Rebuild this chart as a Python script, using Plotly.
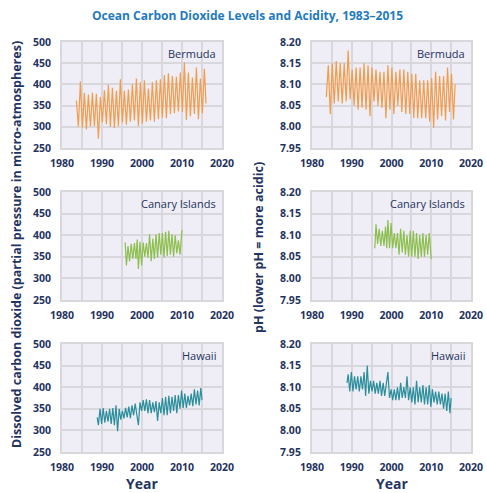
import plotly.graph_objects as go

# Bermuda (1983-2016)
bermuda_year = [1983.6, 1984.1, 1984.6, 1985.1, 1985.6, 1986.1, 1986.6, 1987.1, 1987.6, 1988.1,
                1988.6, 1989.1, 1989.6, 1990.1, 1990.6, 1991.1, 1991.6, 1992.1, 1992.6, 1993.1,
                1993.6, 1994.1, 1994.6, 1995.1, 1995.6, 1996.1, 1996.6, 1997.1, 1997.6, 1998.1,
                1998.6, 1999.1, 1999.6, 2000.1, 2000.6, 2001.1, 2001.6, 2002.1, 2002.6, 2003.1,
                2003.6, 2004.1, 2004.6, 2005.1, 2005.6, 2006.1, 2006.6, 2007.1, 2007.6, 2008.1,
                2008.6, 2009.1, 2009.6, 2010.1, 2010.6, 2011.1, 2011.6, 2012.1, 2012.6, 2013.1,
                2013.6, 2014.1, 2014.6, 2015.1, 2015.6, 2016.0]
bermuda_co2 = [362, 300, 407, 298, 380, 294, 376, 300, 380, 302,
               378, 272, 370, 310, 386, 306, 399, 300, 392, 298,
               385, 302, 412, 310, 385, 305, 388, 312, 400, 315,
               414, 302, 405, 308, 410, 312, 390, 315, 405, 312,
               410, 318, 412, 322, 422, 320, 426, 330, 420, 332,
               418, 336, 428, 335, 452, 316, 428, 325, 416, 330,
               440, 318, 414, 332, 437, 355]
bermuda_ph = [8.070, 8.145, 8.030, 8.150, 8.055, 8.155, 8.060, 8.150, 8.055, 8.150,
              8.060, 8.180, 8.065, 8.135, 8.050, 8.140, 8.040, 8.140, 8.045, 8.150,
              8.040, 8.145, 8.025, 8.140, 8.060, 8.135, 8.050, 8.130, 8.045, 8.130,
              8.020, 8.145, 8.040, 8.140, 8.030, 8.130, 8.050, 8.135, 8.035, 8.135,
              8.030, 8.130, 8.030, 8.125, 8.020, 8.125, 8.020, 8.110, 8.020, 8.110,
              8.020, 8.110, 8.012, 8.115, 7.998, 8.130, 8.017, 8.120, 8.025, 8.120,
              8.015, 8.140, 8.035, 8.125, 8.017, 8.100]

# Canary Islands (1995-2010)
canary_year = [1995.8, 1996.1, 1996.5, 1996.9, 1997.3, 1997.7, 1998.1, 1998.5, 1998.8, 1999.1,
               1999.5, 1999.9, 2000.3, 2000.7, 2001.1, 2001.5, 2001.9, 2002.3, 2002.7, 2003.1,
               2003.5, 2003.9, 2004.3, 2004.7, 2005.1, 2005.5, 2005.9, 2006.3, 2006.7, 2007.1,
               2007.5, 2007.9, 2008.3, 2008.7, 2009.1, 2009.5, 2010.0]
canary_co2 = [383, 330, 375, 340, 380, 345, 382, 345, 390, 322,
              385, 330, 383, 350, 382, 348, 402, 340, 392, 345,
              402, 348, 405, 355, 405, 348, 408, 352, 410, 355,
              402, 350, 400, 358, 388, 355, 412]
canary_ph = [8.070, 8.125, 8.080, 8.115, 8.075, 8.110, 8.075, 8.120, 8.070, 8.135,
             8.070, 8.128, 8.070, 8.105, 8.070, 8.105, 8.055, 8.115, 8.060, 8.110,
             8.055, 8.100, 8.050, 8.110, 8.050, 8.110, 8.050, 8.105, 8.045, 8.100,
             8.050, 8.105, 8.050, 8.100, 8.055, 8.105, 8.045]

# Hawaii (1988-2015)
hawaii_year = [1988.8, 1989.1, 1989.5, 1989.9, 1990.3, 1990.7, 1991.1, 1991.5, 1991.9, 1992.3,
               1992.7, 1993.1, 1993.5, 1993.9, 1994.3, 1994.7, 1995.1, 1995.5, 1995.9, 1996.3,
               1996.7, 1997.1, 1997.5, 1997.9, 1998.3, 1998.7, 1999.1, 1999.5, 1999.9, 2000.3,
               2000.7, 2001.1, 2001.5, 2001.9, 2002.3, 2002.7, 2003.1, 2003.5, 2003.9, 2004.3,
               2004.7, 2005.1, 2005.5, 2005.9, 2006.3, 2006.7, 2007.1, 2007.5, 2007.9, 2008.3,
               2008.7, 2009.1, 2009.5, 2009.9, 2010.3, 2010.7, 2011.1, 2011.5, 2011.9, 2012.3,
               2012.7, 2013.1, 2013.5, 2013.9, 2014.3, 2014.7, 2015.0]
hawaii_co2 = [330, 312, 350, 315, 352, 318, 345, 320, 350, 315,
              352, 312, 358, 298, 350, 325, 345, 328, 352, 330,
              355, 328, 358, 335, 362, 340, 312, 365, 345, 370,
              345, 372, 340, 370, 340, 365, 342, 368, 322, 365,
              340, 375, 335, 378, 335, 380, 340, 378, 345, 382,
              340, 382, 350, 392, 352, 385, 352, 380, 358, 385,
              356, 395, 360, 392, 358, 398, 370]
hawaii_ph = [8.110, 8.130, 8.090, 8.135, 8.090, 8.125, 8.095, 8.125, 8.090, 8.125,
             8.095, 8.135, 8.080, 8.150, 8.085, 8.115, 8.090, 8.115, 8.085, 8.110,
             8.085, 8.115, 8.080, 8.110, 8.080, 8.105, 8.135, 8.075, 8.095, 8.070,
             8.095, 8.070, 8.100, 8.070, 8.110, 8.075, 8.100, 8.075, 8.125, 8.070,
             8.100, 8.065, 8.100, 8.060, 8.115, 8.065, 8.100, 8.065, 8.105, 8.060,
             8.100, 8.060, 8.105, 8.055, 8.095, 8.065, 8.090, 8.060, 8.090, 8.060,
             8.085, 8.050, 8.085, 8.045, 8.090, 8.040, 8.075]

sites = ["Bermuda", "Canary Islands", "Hawaii"]
colors = ["#f39c4c", "#8dbf4e", "#2a8e9c"]
co2_ticks = [250, 300, 350, 400, 450, 500]
ph_ticks = [7.95, 8.00, 8.05, 8.10, 8.15, 8.20]

W, H = 487, 493
NAVY = "#1f3461"
GRID = "#d8d8dc"
FONT = "Open Sans"

fig = go.Figure()

series = [
    (bermuda_year, bermuda_co2, bermuda_ph),
    (canary_year, canary_co2, canary_ph),
    (hawaii_year, hawaii_co2, hawaii_ph),
]

# pixel boxes for panels (top, bottom)
rows = [(42, 148), (192, 300), (344, 452)]
cols = [(62, 222), (312, 471)]

for r, (yrs, co2, ph) in enumerate(series):
    for c, vals in enumerate([co2, ph]):
        n = r * 2 + c + 1
        xa = "x" if n == 1 else f"x{n}"
        ya = "y" if n == 1 else f"y{n}"
        fig.add_trace(go.Scatter(x=yrs, y=vals, mode="lines",
                                 line=dict(color=colors[r], width=1.2),
                                 xaxis=xa, yaxis=ya, showlegend=False,
                                 hoverinfo="skip"))
        top, bot = rows[r]
        left, right = cols[c]
        ticks = co2_ticks if c == 0 else ph_ticks
        fmt = "d" if c == 0 else ".2f"
        fig.layout["xaxis" if n == 1 else f"xaxis{n}"] = dict(
            domain=[left / W, right / W], anchor=ya, range=[1980, 2020],
            tickvals=[1980, 1990, 2000, 2010, 2020], showgrid=True,
            gridcolor=GRID, gridwidth=2, zeroline=False,
            minor=dict(tickvals=[1985, 1995, 2005, 2015], showgrid=True,
                       gridcolor=GRID, gridwidth=2),
            showline=True, linecolor=GRID, linewidth=2, mirror=True,
            ticks="", ticklabelstandoff=4, automargin=False,
            tickfont=dict(family=FONT, size=10.5, color=NAVY, weight="bold"))
        fig.layout["yaxis" if n == 1 else f"yaxis{n}"] = dict(
            domain=[1 - bot / H, 1 - top / H], anchor=xa,
            range=[ticks[0], ticks[-1]], tickvals=ticks, tickformat=fmt,
            showgrid=True, gridcolor=GRID, gridwidth=2, zeroline=False,
            showline=True, linecolor=GRID, linewidth=2, mirror=True,
            ticks="", ticklabelstandoff=7, automargin=False,
            tickfont=dict(family=FONT, size=10.5, color=NAVY, weight="bold"))
        fig.add_annotation(text=sites[r], xref="paper", yref="paper",
                           x=(right - 4) / W, y=1 - (top + 11) / H,
                           xanchor="right", yanchor="middle", showarrow=False,
                           font=dict(family=FONT, size=11, color=NAVY))

fig.add_annotation(text="Ocean Carbon Dioxide Levels and Acidity, 1983\u20132015",
                   xref="paper", yref="paper", x=247 / W, y=1 - 15 / H,
                   xanchor="center", yanchor="middle", showarrow=False,
                   font=dict(family=FONT, size=12, color="#1f7ac0", weight="bold"))
fig.add_annotation(text="Dissolved carbon dioxide (partial pressure in micro-atmospheres)",
                   xref="paper", yref="paper", x=16 / W, y=1 - 245 / H,
                   xanchor="center", yanchor="middle", textangle=-90, showarrow=False,
                   font=dict(family=FONT, size=12.5, color=NAVY, weight="bold"))
fig.add_annotation(text="pH (lower pH = more acidic)",
                   xref="paper", yref="paper", x=258 / W, y=1 - 248 / H,
                   xanchor="center", yanchor="middle", textangle=-90, showarrow=False,
                   font=dict(family=FONT, size=12.5, color=NAVY, weight="bold"))
for cx in [142, 392]:
    fig.add_annotation(text="Year", xref="paper", yref="paper",
                       x=cx / W, y=1 - 483 / H, xanchor="center", yanchor="middle",
                       showarrow=False,
                       font=dict(family=FONT, size=14, color=NAVY, weight="bold"))

fig.update_layout(width=W, height=H, margin=dict(l=0, r=0, t=0, b=0),
                  plot_bgcolor="#efedf5", paper_bgcolor="white",
                  template="none", showlegend=False)

# drop the page's default body margin so the figure sits at the window corner
fig.write_html("out.html", config={"displayModeBar": False},
               post_script="document.body.style.margin='0';")
